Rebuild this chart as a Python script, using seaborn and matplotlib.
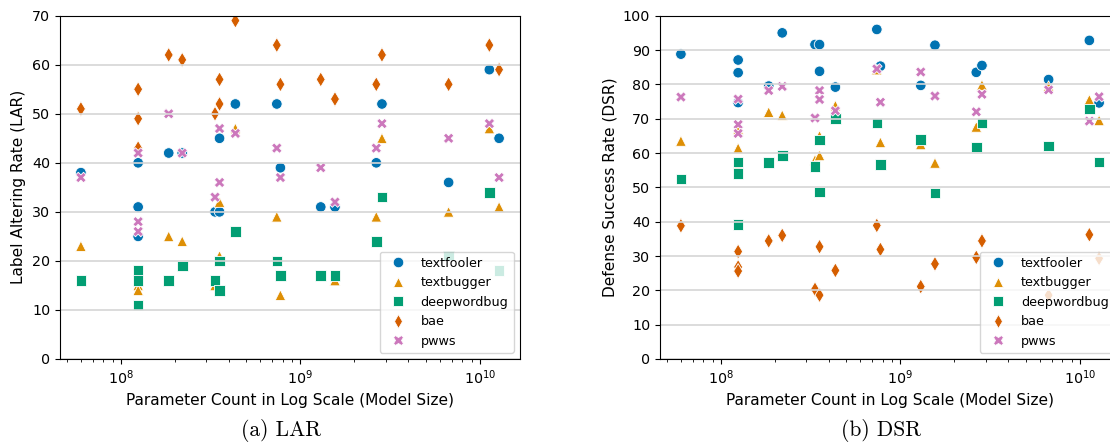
import matplotlib
matplotlib.use("Agg")
import matplotlib.pyplot as plt
import pandas as pd
import seaborn as sns

# Model sizes (parameter counts), one entry per evaluated model
model_params = [6.0e7, 1.25e8, 1.25e8, 1.25e8, 1.85e8, 2.2e8, 3.35e8, 3.55e8, 3.55e8,
                4.35e8, 7.4e8, 7.75e8, 1.3e9, 1.56e9, 2.65e9, 2.85e9, 6.7e9, 1.13e10, 1.28e10]

attacks = ["textfooler", "textbugger", "deepwordbug", "bae", "pwws"]

# Label Altering Rate (%) per attack, aligned with model_params
lar_textfooler = [38, 40, 31, 25, 42, 42, 30, 45, 30, 52, 52, 39, 31, 31, 40, 52, 36, 59, 45]
lar_textbugger = [23, 16, 15, 14, 25, 24, 15, 32, 21, 47, 29, 13, 17, 16, 29, 45, 30, 47, 31]
lar_deepwordbug = [16, 18, 16, 11, 16, 19, 16, 20, 14, 26, 20, 17, 17, 17, 24, 33, 21, 34, 18]
lar_bae = [51, 55, 49, 43, 62, 61, 50, 57, 52, 69, 64, 56, 57, 53, 56, 62, 56, 64, 59]
lar_pwws = [37, 42, 28, 26, 50, 42, 33, 47, 36, 46, 43, 37, 39, 32, 43, 48, 45, 48, 37]

# Defense Success Rate (%) per attack, aligned with model_params
dsr_textfooler = [88.8, 87.1, 83.4, 74.7, 79.5, 95.0, 91.6, 91.6, 83.8, 79.2,
                  96.0, 85.3, 79.7, 91.4, 83.5, 85.5, 81.4, 92.8, 74.6]
dsr_textbugger = [63.5, 61.4, 67.0, 56.5, 71.9, 71.0, 58.0, 65.0, 59.3, 73.8,
                  84.3, 63.1, 62.5, 57.1, 67.6, 79.8, 79.5, 75.5, 69.5]
dsr_deepwordbug = [52.4, 57.4, 54.0, 39.2, 57.2, 59.2, 56.0, 63.8, 48.7, 70.1,
                   68.8, 56.6, 63.9, 48.3, 61.8, 68.7, 62.0, 72.8, 57.4]
dsr_bae = [38.8, 31.3, 26.8, 25.6, 34.4, 36.0, 20.3, 32.7, 18.6, 25.8,
           38.9, 31.9, 21.1, 27.7, 29.6, 34.4, 18.6, 36.2, 29.3]
dsr_pwws = [76.3, 75.7, 68.3, 65.7, 78.2, 79.4, 70.2, 78.2, 75.6, 72.3,
            84.5, 74.8, 83.6, 76.6, 72.0, 77.1, 78.4, 69.3, 76.4]

lar_ticks = list(range(0, 71, 10))
dsr_ticks = list(range(0, 101, 10))

lar = [lar_textfooler, lar_textbugger, lar_deepwordbug, lar_bae, lar_pwws]
dsr = [dsr_textfooler, dsr_textbugger, dsr_deepwordbug, dsr_bae, dsr_pwws]

rows = []
for name, lv, dv in zip(attacks, lar, dsr):
    for p, a, b in zip(model_params, lv, dv):
        rows.append({"params": p, "attack": name, "LAR": a, "DSR": b})
df = pd.DataFrame(rows)

palette = dict(zip(attacks, sns.color_palette("colorblind", 5)))
markers = dict(zip(attacks, ["o", "^", "s", "d", "X"]))

plt.rcParams["font.family"] = ["DejaVu Sans"]
plt.rcParams["xtick.labelsize"] = 10.3
plt.rcParams["ytick.labelsize"] = 10.3
plt.rcParams["axes.labelsize"] = 11.1

fig = plt.figure(figsize=(11.10, 4.45), dpi=100)
ax_l = fig.add_axes([60 / 1110, 86 / 445, 460 / 1110, 343.3 / 445])
ax_r = fig.add_axes([660 / 1110, 86 / 445, 460 / 1110, 343.3 / 445])

panels = [
    (ax_l, "LAR", "Label Altering Rate (LAR)", lar_ticks, "(a) LAR"),
    (ax_r, "DSR", "Defense Success Rate (DSR)", dsr_ticks, "(b) DSR"),
]

for ax, col, ylabel, yticks, caption in panels:
    ax.set_xscale("log")
    sns.scatterplot(data=df, x="params", y=col, hue="attack", style="attack",
                    hue_order=attacks, style_order=attacks, palette=palette,
                    markers=markers, s=58, ax=ax)
    ax.set_ylim(yticks[0], yticks[-1])
    ax.set_yticks(yticks)
    ax.set_xlabel("Parameter Count in Log Scale (Model Size)")
    ax.set_ylabel(ylabel)
    ax.grid(axis="y", color="#d6d6d6", linewidth=1.2)
    ax.set_axisbelow("line")
    old = ax.get_legend()
    handles = old.legend_handles
    labels = [t.get_text() for t in old.get_texts()]
    old.remove()
    ax.legend(handles, labels, loc="lower right", fontsize=9.2)
    bbox = ax.get_position()
    fig.text(bbox.x0 + bbox.width / 2 - 9 / 1110, 1 - 431 / 445, caption,
             ha="center", va="center", fontsize=15.5, family="cmr10")

fig.savefig("out.png", dpi=100)
